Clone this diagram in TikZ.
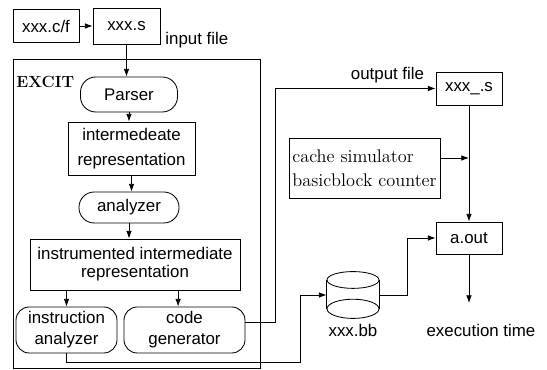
\documentclass[tikz,border=0pt]{standalone}
\usepackage{fontspec}
\setsansfont{Liberation Sans}
\usetikzlibrary{arrows.meta}
\usetikzlibrary{calc}

\begin{document}
\begin{tikzpicture}[>={Latex[length=5.5pt,width=4pt]},line width=0.6pt,
  box/.style={draw,align=center,inner sep=0pt,font=\sffamily\fontsize{12}{15}\selectfont},
  pill/.style={box,rounded corners=0.38cm},
  rbox/.style={box,rounded corners=0.33cm},
  lbl/.style={inner sep=0pt,font=\sffamily\fontsize{12}{15}\selectfont}]
\useasboundingbox (0,0) rectangle (13.675,9.25);
\node[box,minimum width=1.65cm,minimum height=0.825cm] (src) at (1.15,8.6) {xxx.c/f};
\node[box,minimum width=1.675cm,minimum height=0.9cm] (asm) at (3.1625,8.6) {xxx.s};
\node[lbl,anchor=west] (infile) at (4.125,8.25) {input file};
\node[draw,minimum width=6.175cm,minimum height=7.725cm] (excit) at (3.4125,3.9125) {};
\node[anchor=north west,inner sep=0pt,font=\bfseries\fontsize{11.5}{13}\selectfont] (excitname) at (0.4,7.35) {EXCIT};
\node[pill,minimum width=2.425cm,minimum height=0.875cm] (parser) at (3.225,6.8875) {Parser};
\node[box,minimum width=3.175cm,minimum height=1.325cm,font=\sffamily\fontsize{12}{17.5}\selectfont] (ir) at (3.2875,5.5375) {intermedeate\\representation};
\node[pill,minimum width=2.5cm,minimum height=0.775cm] (ana) at (3.225,4.0625) {analyzer};
\node[box,minimum width=5.25cm,minimum height=1.275cm,font=\sffamily\fontsize{12}{13}\selectfont] (iir) at (3.375,2.6375) {instrumented intermediate\\representation};
\node[rbox,minimum width=2.525cm,minimum height=1.15cm] (ia) at (1.6625,1.0) {instruction\\analyzer};
\node[rbox,minimum width=3.025cm,minimum height=1.15cm] (cg) at (4.6125,1.0) {code\\generator};
\node[lbl] (outfile) at (9.6875,7.375) {output file};
\node[box,minimum width=1.65cm,minimum height=0.825cm] (obj) at (11.725,7.0375) {xxx\_.s};
\node[draw,align=left,inner sep=0pt,minimum width=3.775cm,minimum height=1.5cm,font=\fontsize{13}{17}\selectfont] (sim) at (9.1125,5.05) {cache simulator\\basicblock counter};
\node[box,minimum width=1.65cm,minimum height=0.8cm] (aout) at (11.725,3.3) {a.out};
\node[lbl] (exec) at (12.025,1.0) {execution time};
\coordinate (execin) at (11.725,1.675);
\node[minimum width=1.3cm,minimum height=1.15cm,inner sep=0pt] (bb) at (8.825,1.875) {};
\draw ([yshift=-0.21cm]bb.north) ellipse [x radius=0.65cm,y radius=0.21cm];
\draw ([yshift=0.24cm]bb.south) ellipse [x radius=0.65cm,y radius=0.24cm];
\draw ([yshift=-0.21cm]bb.north west) -- ([yshift=0.24cm]bb.south west);
\draw ([yshift=-0.21cm]bb.north east) -- ([yshift=0.24cm]bb.south east);
\node[lbl] (bbname) at (8.825,1.0) {xxx.bb};
\coordinate (iabend) at (7.5,0.2);
\draw[->] (src) -- (asm);
\draw[->] (asm.south) -- (asm.south |- parser.north);
\draw[->] (parser.south) -- (parser.south |- ir.north);
\draw[->] (ir.south) -- (ir.south |- ana.north);
\draw[->] (ana.south) -- (ana.south |- iir.north);
\draw[->] (ia.north |- iir.south) -- (ia.north);
\draw[->] ([xshift=-0.16cm]cg.north |- iir.south) -- ([xshift=-0.16cm]cg.north);
\draw[->] ([yshift=0.2cm]cg.east) -- ++(0.75,0) |- (obj.west);
\draw[->] (obj) -- (aout);
\draw[->] ([yshift=0.25cm]sim.east) -- ([yshift=0.25cm]sim.east -| obj.south);
\draw[->] (aout) -- (execin);
\draw[->] (bb.east) -- ++(0.7,0) |- (aout.west);
\draw[->] (ia.south) |- (iabend) |- (bb.west);
\end{tikzpicture}
\end{document}
